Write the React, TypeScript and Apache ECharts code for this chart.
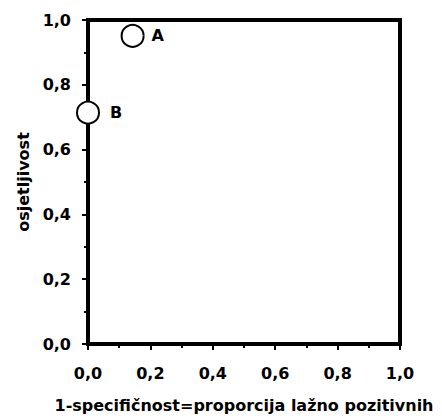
import React, { useEffect, useRef } from "react";
import * as echarts from "echarts";

const pointNames = ["A", "B"];
const falsePositiveRate = [0.143, 0.0];
const sensitivity = [0.951, 0.714];
const labelGaps = [7, 10];
const xTitle = "1-specifičnost=proporcija lažno pozitivnih";
const yTitle = "osjetljivost";

const FONT = "DejaVu Sans";
const fmt = (v: number) => v.toFixed(1).replace(".", ",");

export default function App() {
  const ref = useRef<HTMLDivElement>(null);
  useEffect(() => {
    if (!ref.current) return;
    const chart = echarts.init(ref.current, undefined, { renderer: "svg" });
    const axisCommon = {
      min: 0,
      max: 1,
      interval: 0.2,
      nameLocation: "middle" as const,
      nameTextStyle: { fontFamily: FONT, fontWeight: "bold" as const, fontSize: 16, color: "#000" },
      axisLine: { show: true, lineStyle: { color: "#000", width: 4 } },
      axisTick: { show: true, length: 6, lineStyle: { color: "#000", width: 2 } },
      minorTick: { show: true, splitNumber: 2, length: 4, lineStyle: { color: "#000", width: 2 } },
      splitLine: { show: false },
      axisLabel: {
        fontFamily: FONT,
        fontWeight: "bold" as const,
        fontSize: 16,
        color: "#000",
        formatter: (v: number) => fmt(v),
      },
    };
    chart.setOption({
      animation: false,
      backgroundColor: "#fff",
      grid: {
        left: 88,
        right: 42,
        top: 20,
        bottom: 74,
        show: true,
        borderColor: "#000",
        borderWidth: 4,
        backgroundColor: "transparent",
      },
      xAxis: {
        ...axisCommon,
        type: "value",
        name: xTitle,
        nameGap: 53,
        axisLabel: { ...axisCommon.axisLabel, margin: 21 },
      },
      yAxis: {
        ...axisCommon,
        type: "value",
        name: yTitle,
        nameGap: 51,
        axisLabel: { ...axisCommon.axisLabel, margin: 17 },
      },
      series: [
        {
          type: "scatter",
          clip: false,
          symbol: "circle",
          symbolSize: 22,
          itemStyle: { color: "#fff", borderColor: "#000", borderWidth: 2, opacity: 1 },
          label: {
            show: true,
            position: "right",
            formatter: (p: any) => p.name,
            fontFamily: FONT,
            fontWeight: "bold",
            fontSize: 16,
            color: "#000",
          },
          data: pointNames.map((n, i) => ({
            name: n,
            value: [falsePositiveRate[i], sensitivity[i]],
            label: { distance: labelGaps[i] },
          })),
        },
      ],
    });
    return () => chart.dispose();
  }, []);
  return <div ref={ref} style={{ width: 442, height: 418, position: "absolute", left: 0, top: 0 }} />;
}
